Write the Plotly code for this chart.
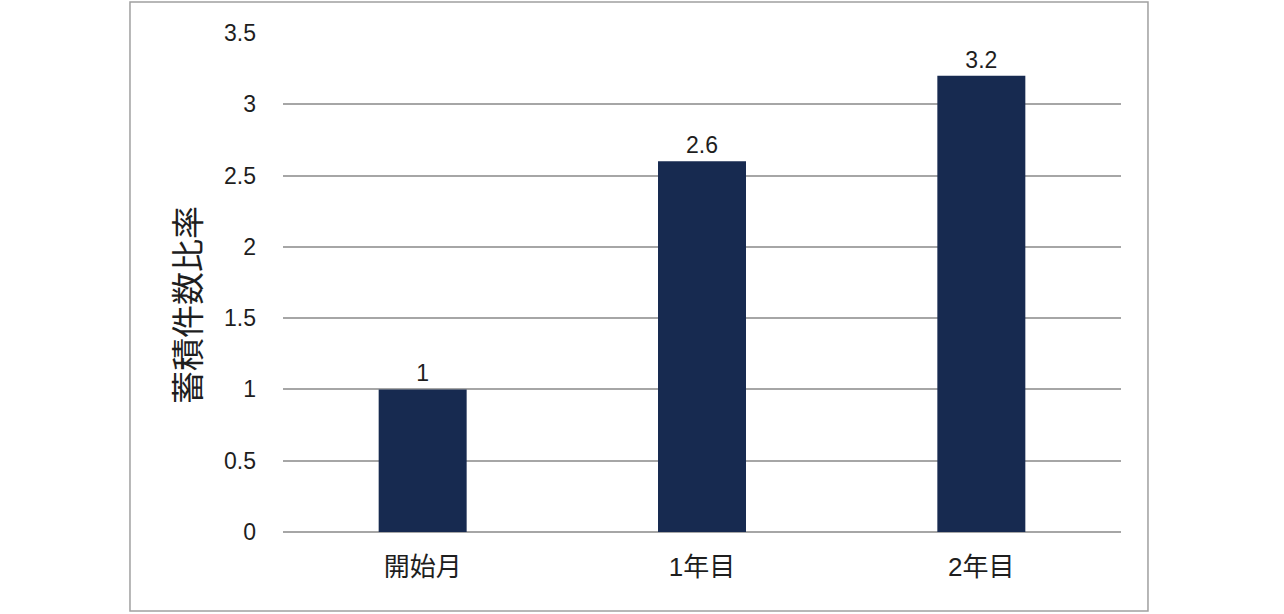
import plotly.graph_objects as go

# データ
categories = ['開始月', '1年目', '2年目']
ratios = [1, 2.6, 3.2]
tick_vals = [0, 0.5, 1, 1.5, 2, 2.5, 3, 3.5]
tick_text = ['0', '0.5', '1', '1.5', '2', '2.5', '3', '3.5']

font_family = 'Liberation Sans, Arial, Noto Sans CJK JP'
text_color = '#1e1e1e'

fig = go.Figure(go.Bar(
    x=categories,
    y=ratios,
    text=[str(v) for v in ratios],
    textposition='outside',
    textfont=dict(size=23, color=text_color, family=font_family),
    cliponaxis=False,
    marker=dict(color='#172a50', line=dict(width=0)),
    width=0.315,
))

fig.update_layout(
    width=1284, height=614,
    margin=dict(l=283, r=163, t=33, b=82),
    paper_bgcolor='white', plot_bgcolor='white',
    showlegend=False,
    font=dict(family=font_family, color=text_color),
    xaxis=dict(showgrid=False, showline=False, ticks='', ticklabelstandoff=17,
               tickfont=dict(size=26, color=text_color)),
    yaxis=dict(range=[0, 3.5], tickvals=tick_vals, ticktext=tick_text,
               showgrid=True, gridcolor='#a6a6a6', gridwidth=1.5,
               zeroline=True, zerolinecolor='#a6a6a6', zerolinewidth=1.5,
               showline=False, ticks='', ticklabelstandoff=26,
               tickfont=dict(size=23, color=text_color)),
    annotations=[dict(text='蓄積件数比率', xref='paper', yref='paper',
                      x=-0.1158, y=0.455, xanchor='center', yanchor='middle',
                      textangle=-90, showarrow=False,
                      font=dict(size=33, color=text_color,
                                family='Noto Sans CJK JP'))],
    shapes=[dict(type='rect', xref='paper', yref='paper',
                 x0=-0.1826, x1=1.0322, y0=-0.1583, y1=1.0621,
                 line=dict(color='#a0a0a0', width=1.5), layer='below')],
)

# ページ余白をなくして位置を合わせる
fig.write_html('out.html', config={'displayModeBar': False},
               post_script="document.body.style.margin='0';")
